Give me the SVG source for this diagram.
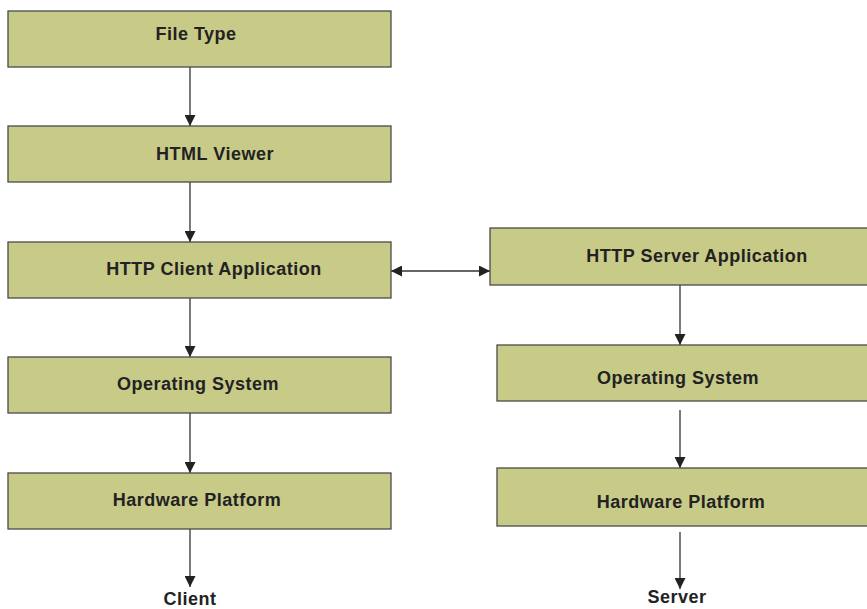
<svg xmlns="http://www.w3.org/2000/svg" width="867" height="609" viewBox="0 0 867 609">
<style>
.box{fill:#c8ca88;stroke:#4a4a4a;stroke-width:1.3}
.t{font-family:"Liberation Sans",Arial,sans-serif;font-weight:bold;font-size:18px;letter-spacing:0.5px;fill:#222;text-anchor:middle}
.c{stroke:#333;stroke-width:1.3;fill:none}
</style>
<defs>
<marker id="ah" viewBox="0 0 10 10" refX="10" refY="5" markerWidth="11" markerHeight="11" markerUnits="userSpaceOnUse" orient="auto-start-reverse">
<path d="M0,0 L10,5 L0,10 z" fill="#222"/>
</marker>
</defs>
<rect width="867" height="609" fill="#fff"/>
<g id="connectors">
<line class="c" x1="190" y1="67" x2="190" y2="126" marker-end="url(#ah)"/>
<line class="c" x1="190" y1="182" x2="190" y2="242" marker-end="url(#ah)"/>
<line class="c" x1="190" y1="298" x2="190" y2="357" marker-end="url(#ah)"/>
<line class="c" x1="190" y1="413" x2="190" y2="473" marker-end="url(#ah)"/>
<line class="c" x1="190" y1="529" x2="190" y2="587" marker-end="url(#ah)"/>
<line class="c" x1="391" y1="271" x2="490" y2="271" marker-start="url(#ah)" marker-end="url(#ah)"/>
<line class="c" x1="680" y1="285" x2="680" y2="345" marker-end="url(#ah)"/>
<line class="c" x1="680" y1="410" x2="680" y2="468" marker-end="url(#ah)"/>
<line class="c" x1="680" y1="532" x2="680" y2="589" marker-end="url(#ah)"/>
</g>
<g id="file-type"><rect class="box" x="8" y="11" width="383" height="56"/><text class="t" x="196" y="40">File Type</text></g>
<g id="html-viewer"><rect class="box" x="8" y="126" width="383" height="56"/><text class="t" x="215" y="160">HTML Viewer</text></g>
<g id="http-client"><rect class="box" x="8" y="242" width="383" height="56"/><text class="t" x="214" y="275">HTTP Client Application</text></g>
<g id="os-client"><rect class="box" x="8" y="357" width="383" height="56"/><text class="t" x="198" y="390">Operating System</text></g>
<g id="hw-client"><rect class="box" x="8" y="473" width="383" height="56"/><text class="t" x="197" y="506">Hardware Platform</text></g>
<g id="client-label"><text class="t" x="190" y="605">Client</text></g>
<g id="http-server"><rect class="box" x="490" y="228" width="390" height="57"/><text class="t" x="697" y="262">HTTP Server Application</text></g>
<g id="os-server"><rect class="box" x="497" y="345" width="383" height="56"/><text class="t" x="678" y="384">Operating System</text></g>
<g id="hw-server"><rect class="box" x="497" y="468" width="383" height="58"/><text class="t" x="681" y="508">Hardware Platform</text></g>
<g id="server-label"><text class="t" x="677" y="603">Server</text></g>
</svg>
